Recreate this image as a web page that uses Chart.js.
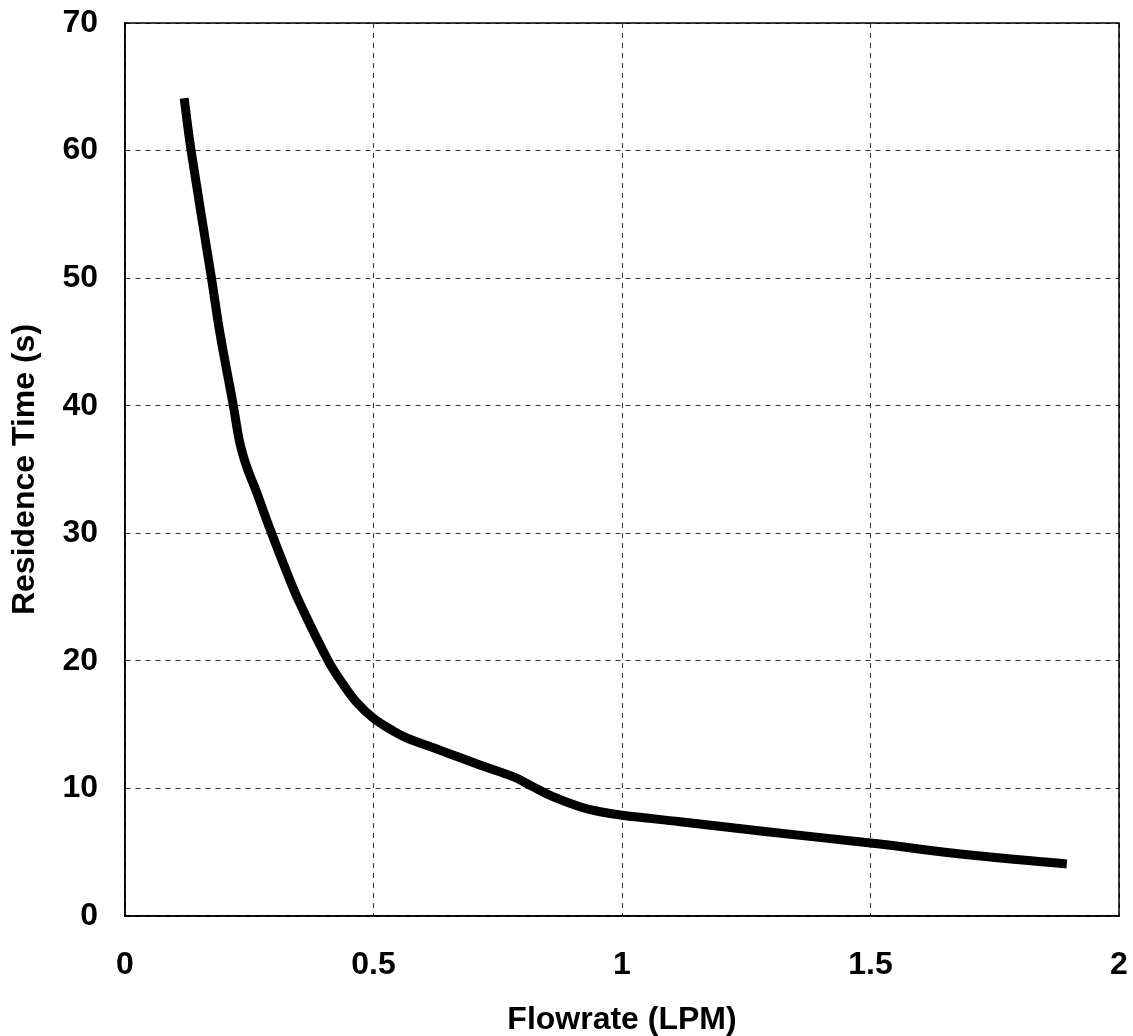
<!DOCTYPE html>
<html>
<head>
<meta charset="utf-8">
<script src="https://cdn.jsdelivr.net/npm/chart.js@4/dist/chart.umd.min.js"></script>
<style>
html,body{margin:0;padding:0;background:#fff;}
#wrap{width:1133px;height:1036px;}
</style>
</head>
<body>
<div id="wrap"><canvas id="c" width="1133" height="1036"></canvas></div>
<script>
const flowrate = [0.119, 0.133, 0.174, 0.191, 0.218, 0.231, 0.245, 0.265, 0.292, 0.329, 0.352, 0.409, 0.44, 0.465, 0.5, 0.54, 0.567, 0.634, 0.714, 0.781, 0.815, 0.861, 0.915, 0.956, 1.0, 1.117, 1.292, 1.5, 1.700, 1.895];
const residenceTime = [64.1, 60, 50, 45.7, 40.0, 37.1, 35.2, 33.2, 30.3, 26.6, 24.5, 20, 18.1, 16.8, 15.5, 14.5, 13.95, 13.0, 11.84, 10.92, 10.25, 9.35, 8.57, 8.17, 7.9, 7.39, 6.6, 5.72, 4.78, 4.08];
const xTickValues = [0, 0.5, 1, 1.5, 2];
const xTickLabels = ['0', '0.5', '1', '1.5', '2'];
const yTickValues = [0, 10, 20, 30, 40, 50, 60, 70];
const yTickLabels = ['0', '10', '20', '30', '40', '50', '60', '70'];
const xTitle = 'Flowrate (LPM)';
const yTitle = 'Residence Time (s)';

const points = flowrate.map((x, i) => ({x: x, y: residenceTime[i]}));
const FONT = {family: '"Liberation Sans", Arial, sans-serif', size: 32, weight: 'bold', lineHeight: 1.2};
const TFONT = {family: '"Liberation Sans", Arial, sans-serif', size: 32, weight: 'bold', lineHeight: 1};

const framePlugin = {
  id: 'frame',
  afterDraw(chart) {
    const a = chart.chartArea, ctx = chart.ctx;
    ctx.save();
    ctx.strokeStyle = '#000';
    ctx.lineWidth = 1.5;
    ctx.strokeRect(a.left, a.top, a.right - a.left, a.bottom - a.top);
    ctx.restore();
  }
};

new Chart(document.getElementById('c'), {
  type: 'line',
  data: {
    datasets: [{
      data: points,
      borderColor: '#000',
      borderWidth: 9,
      borderCapStyle: 'butt',
      borderJoinStyle: 'round',
      pointRadius: 0,
      fill: false,
      tension: 0.4
    }]
  },
  options: {
    responsive: false,
    animation: false,
    events: [],
    layout: {padding: {left: 0, right: 14, top: 23, bottom: 0}},
    plugins: {legend: {display: false}, tooltip: {enabled: false}},
    scales: {
      x: {
        type: 'linear',
        min: 0, max: 2,
        afterBuildTicks: (s) => { s.ticks = xTickValues.map(v => ({value: v})); },
        afterFit: (s) => { s.height = 120; s.paddingLeft = 0; s.paddingRight = 0; },
        grid: {color: '#333', lineWidth: 1, drawTicks: false},
        border: {display: true, color: '#000', width: 1.5, dash: [5, 5]},
        ticks: {color: '#000', font: FONT, padding: 30, maxRotation: 0, autoSkip: false,
                callback: (v, i) => xTickLabels[i]},
        title: {display: true, text: xTitle, color: '#000', font: TFONT, padding: {top: 0, bottom: 0}}
      },
      y: {
        type: 'linear',
        min: 0, max: 70,
        afterBuildTicks: (s) => { s.ticks = yTickValues.map(v => ({value: v})); },
        afterFit: (s) => { s.width = 125; s.paddingTop = 0; s.paddingBottom = 0; },
        grid: {color: '#333', lineWidth: 1, drawTicks: false},
        border: {display: true, color: '#000', width: 1.5, dash: [5, 5]},
        ticks: {color: '#000', font: FONT, padding: 27, autoSkip: false,
                callback: (v, i) => yTickLabels[i]},
        title: {display: true, text: yTitle, color: '#000', font: TFONT, padding: {top: 9, bottom: 0}}
      }
    }
  },
  plugins: [framePlugin]
});
</script>
</body>
</html>
